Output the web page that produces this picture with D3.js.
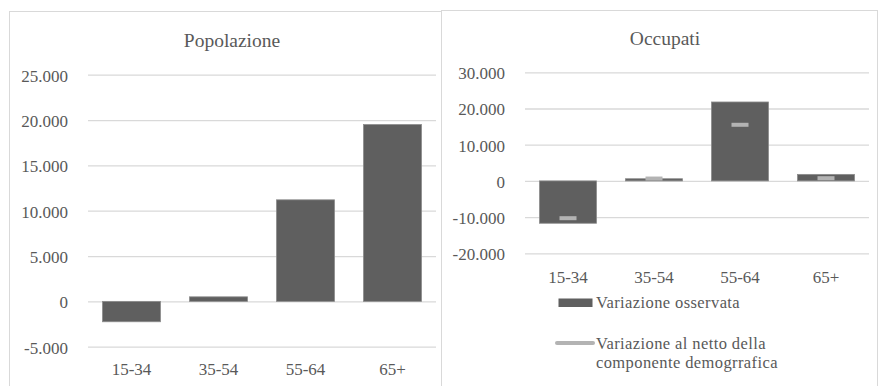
<!DOCTYPE html>
<html>
<head>
<meta charset="utf-8">
<script src="https://cdn.jsdelivr.net/npm/d3@7"></script>
</head>
<body style="margin:0;padding:0;background:#fff">
<svg id="chart" width="879" height="386" style="display:block"></svg>
<script>
// Age classes shared by both panels
const categories = ["15-34", "35-54", "55-64", "65+"];

// Panel 1: change in population
const popolazione = [-2250, 500, 11200, 19500];
const popTicks = [-5000, 0, 5000, 10000, 15000, 20000, 25000];

// Panel 2: change in employment
const occupatiOsservata = [-11700, 600, 21800, 1800];
const occupatiNetto = [-10300, 650, 15500, 750];
const occTicks = [-20000, -10000, 0, 10000, 20000, 30000];

const legendLabels = ["Variazione osservata", "Variazione al netto della", "componente demogrrafica"];

const BAR = "#5f5f5f";
const MARK = "#b3b3b3";
const GRID = "#d9d9d9";
const TEXT = "#595959";
const FONT = "'Liberation Serif'";

const itLocale = d3.formatLocale({ decimal: ",", thousands: ".", grouping: [3], currency: ["€", ""], minus: "-" });
const fmt = itLocale.format(",d");

const svg = d3.select("#chart");

// Panel frames
svg.append("rect").attr("x", 9.5).attr("y", 11.5).attr("width", 432).attr("height", 400)
  .attr("fill", "none").attr("stroke", GRID);
svg.append("rect").attr("x", 441.5).attr("y", 10.5).attr("width", 436).attr("height", 400)
  .attr("fill", "#fff").attr("stroke", GRID);

function panel(opts) {
  const g = svg.append("g");
  const x = d3.scaleBand().domain(categories).range(opts.xRange)
    .paddingInner(opts.padIn).paddingOuter(opts.padIn / 2);
  const y = d3.scaleLinear().domain(opts.yDomain).range(opts.yRange);

  // Gridlines + value labels
  const ax = g.append("g")
    .attr("transform", `translate(${opts.xRange[0]},0)`)
    .call(d3.axisLeft(y).tickValues(opts.ticks).tickFormat(fmt)
      .tickSizeInner(-(opts.xRange[1] - opts.xRange[0])).tickSizeOuter(0).tickPadding(20));
  ax.select(".domain").remove();
  ax.selectAll(".tick line").attr("stroke", GRID).attr("stroke-width", 1.3);
  ax.selectAll(".tick text").attr("fill", TEXT).attr("dy", "0.38em")
    .style("font-family", FONT).style("font-size", "17px");

  // Bars
  g.append("g").selectAll("rect").data(opts.values).join("rect")
    .attr("x", (d, i) => x(categories[i]))
    .attr("width", x.bandwidth())
    .attr("y", d => Math.min(y(d), y(0)))
    .attr("height", d => Math.abs(y(d) - y(0)))
    .attr("fill", BAR)
    .attr("stroke", "#8c8c8c").attr("stroke-width", 0.8);

  // Category labels
  g.append("g").selectAll("text").data(categories).join("text")
    .attr("x", d => x(d) + x.bandwidth() / 2)
    .attr("y", opts.catY)
    .attr("text-anchor", "middle")
    .attr("fill", TEXT)
    .style("font-family", FONT).style("font-size", "17px")
    .text(d => d);

  // Title
  g.append("text").attr("x", opts.titleX).attr("y", opts.titleY)
    .attr("text-anchor", "middle").attr("fill", TEXT)
    .style("font-family", FONT).style("font-size", "19.5px")
    .text(opts.title);

  return { g, x, y };
}

panel({
  title: "Popolazione", titleX: 232, titleY: 46.5,
  xRange: [88, 436], padIn: 0.333,
  yDomain: [-5000, 25000], yRange: [346.7, 74.7],
  ticks: popTicks, values: popolazione, catY: 375
});

const occ = panel({
  title: "Occupati", titleX: 665, titleY: 44.5,
  xRange: [525, 869], padIn: 0.337,
  yDomain: [-20000, 30000], yRange: [253.3, 72.3],
  ticks: occTicks, values: occupatiOsservata, catY: 282.5
});

// Net-of-demographics markers
const mw = 17, mh = 4;
occ.g.append("g").selectAll("rect").data(occupatiNetto).join("rect")
  .attr("x", (d, i) => occ.x(categories[i]) + occ.x.bandwidth() / 2 - mw / 2)
  .attr("y", d => occ.y(d) - mh / 2)
  .attr("width", mw).attr("height", mh)
  .attr("fill", MARK);

// Legend
const lg = svg.append("g");
lg.append("rect").attr("x", 558.5).attr("y", 298.5).attr("width", 34).attr("height", 8.5).attr("fill", BAR);
lg.append("line").attr("x1", 557).attr("x2", 593).attr("y1", 343).attr("y2", 343)
  .attr("stroke", MARK).attr("stroke-width", 4).attr("stroke-linecap", "round");
lg.selectAll("text").data(legendLabels).join("text")
  .attr("x", 596)
  .attr("y", (d, i) => [307.5, 349, 367.5][i])
  .attr("fill", TEXT)
  .style("font-family", FONT).style("font-size", "16.5px").style("letter-spacing", "0.4px")
  .text(d => d);
</script>
</body>
</html>
